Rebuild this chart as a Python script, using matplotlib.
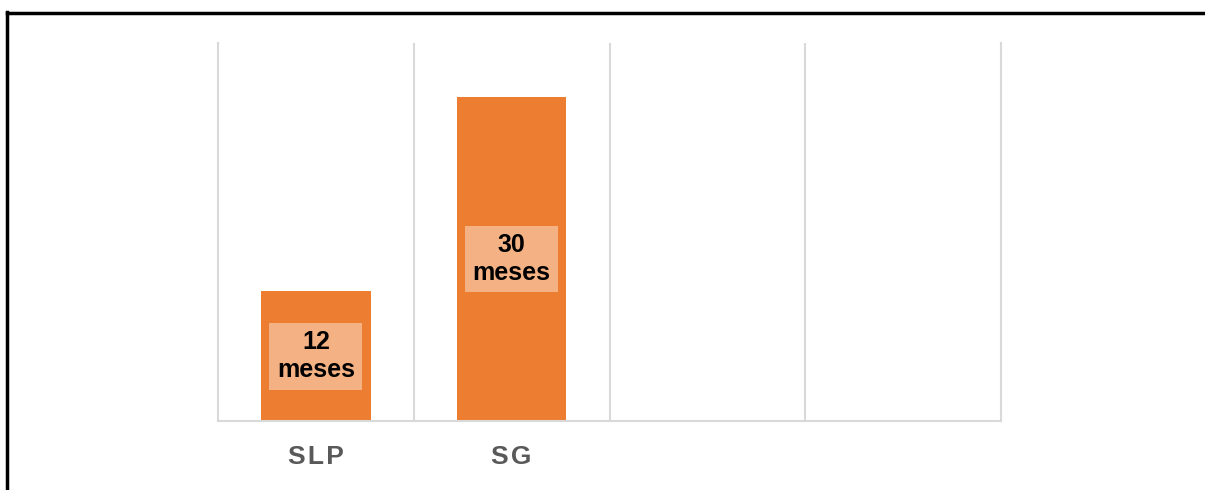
import matplotlib
matplotlib.use("Agg")
import matplotlib.pyplot as plt
import numpy as np
from matplotlib.lines import Line2D

categories = ["SLP", "SG", "", ""]
values = [12, 30, 0, 0]
labels = ["12\nmeses", "30\nmeses", None, None]

plt.rcParams['font.family'] = ['Liberation Sans', 'DejaVu Sans']

fig = plt.figure(figsize=(12.05, 4.9), dpi=100)
ax = fig.add_axes([218/1205, 1 - 421/490, (1001-218)/1205, (421-43)/490])

x = np.arange(len(categories))
ax.bar(x, values, width=0.56, color="#ED7D31", zorder=2)

for xi, v, lab in zip(x, values, labels):
    if lab:
        ax.text(xi, v/2, lab, ha="center", va="center", fontsize=18, fontweight="bold",
                color="black", linespacing=1.2, zorder=3,
                bbox=dict(boxstyle="square,pad=0.3", fc="#F4B183", ec="none"))

spaced = ["\u200a".join(c) for c in categories]
ax.set_xlim(-0.5, len(categories) - 0.5)
ax.set_ylim(0, 35)
ax.set_xticks(x)
ax.set_xticklabels(spaced, fontsize=19, fontweight="bold", color="#595959")
ax.tick_params(axis="x", length=0, pad=17)
ax.set_yticks([])
ax.set_xticks(np.arange(len(categories) - 1) + 0.5, minor=True)
ax.tick_params(axis="x", which="minor", length=0)
ax.grid(axis="x", which="minor", color="#D9D9D9", linewidth=1.5, zorder=0)
for s in ["left", "right", "bottom"]:
    ax.spines[s].set_color("#D9D9D9")
    ax.spines[s].set_linewidth(1.5)
ax.spines["top"].set_visible(False)

# outer black frame (left and top)
fig.add_artist(Line2D([7/1205, 7/1205], [0, 1 - 12/490], color="black", linewidth=2.5, transform=fig.transFigure))
fig.add_artist(Line2D([7/1205, 1], [1 - 13/490, 1 - 13/490], color="black", linewidth=2.5, transform=fig.transFigure))

fig.savefig("out.png", dpi=100)
